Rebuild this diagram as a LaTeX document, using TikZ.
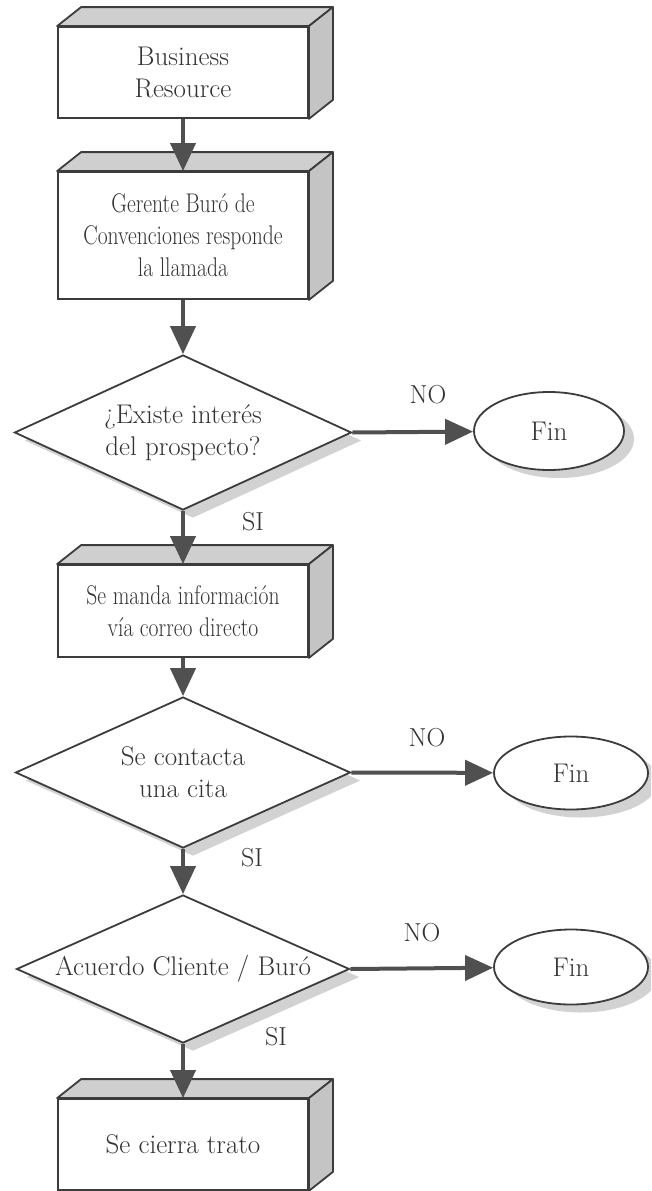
\documentclass[tikz,border=0pt]{standalone}
\usepackage{fontspec}
\usepackage{graphicx}
\usetikzlibrary{shapes.geometric,arrows.meta,shadows}
\definecolor{edge}{HTML}{3C3C3C}
\definecolor{arrowc}{HTML}{505050}
\definecolor{facec}{HTML}{CFCFCF}
\definecolor{sidec}{HTML}{C4C4C4}
\definecolor{shadec}{HTML}{D2D2D2}
\newcommand\cond[1]{\scalebox{0.8}[1]{#1}}
\begin{document}
\begin{tikzpicture}[x=1pt,y=-1pt,
  txt/.style={font=\fontsize{27}{32}\selectfont, align=center, text=black!80},
  box/.style={draw=edge, line width=1.8pt, fill=white, minimum width=250pt, inner sep=0pt, txt},
  shad/.style={drop shadow={shadow xshift=10pt, shadow yshift=-8pt, fill=shadec, opacity=1}},
  dia/.style={diamond, draw=edge, line width=1.8pt, fill=white, inner sep=0pt, shape aspect=2.2, txt, shad},
  fin/.style={ellipse, draw=edge, line width=1.8pt, fill=white, inner sep=0pt, txt, shad},
  topface/.style={fill=facec, draw=edge, line width=1.8pt, line join=round},
  sideface/.style={fill=sidec, draw=edge, line width=1.8pt, line join=round},
  arr/.style={draw=arrowc, line width=4pt, -{Triangle[length=28pt,width=25pt]}},
  lab/.style={font=\fontsize{26}{30}\selectfont, text=black!80}]
\useasboundingbox (0,0) rectangle (651,1191);
\clip (0,0) rectangle (651,1191);

% boxes
\node[box, minimum height=91pt] (b1) at (183,72.5) {Business\\Resource};
\node[box, minimum height=127pt] (b2) at (183,235.5) {\cond{Gerente Buró de}\\\cond{Convenciones responde}\\\cond{la llamada}};
\node[box, minimum height=92pt] (b3) at (183,611) {\cond{Se manda información}\\\cond{vía correo directo}};
\node[box, minimum height=91pt] (b4) at (183,1144.5) {Se cierra trato};

\foreach \n in {b1,b2,b3,b4} {
  \filldraw[topface] (\n.north west) -- ++(24,-19) -- ([shift={(24,-19)}]\n.north east) -- (\n.north east) -- cycle;
  \filldraw[sideface] (\n.north east) -- ++(24,-19) -- ([shift={(24,-19)}]\n.south east) -- (\n.south east) -- cycle;
}

% decisions
\node[dia, minimum width=337pt, minimum height=155pt] (d1) at (183,432.5) {¿Existe interés\\del prospecto?};
\node[dia, minimum width=335pt, minimum height=151pt] (d2) at (183,772.5) {Se contacta\\una cita};
\node[dia, minimum width=333pt, minimum height=148pt] (d3) at (183,969) {Acuerdo Cliente / Buró};

% end nodes
\node[fin, minimum width=150pt, minimum height=78pt] (e1) at (549,431) {Fin};
\node[fin, minimum width=154pt, minimum height=73pt] (e2) at (571,773) {Fin};
\node[fin, minimum width=154pt, minimum height=75pt] (e3) at (571,967) {Fin};

% labels
\node[lab] (no1) at (428,395) {NO};
\node[lab] (no2) at (427,738) {NO};
\node[lab] (no3) at (422,933) {NO};
\node[lab] (si1) at (253,522) {SI};
\node[lab] (si2) at (252,858) {SI};
\node[lab] (si3) at (276,1037) {SI};

% connectors
\draw[arr] (b1.south) -- (b2.north);
\draw[arr] (b2.south) -- (d1.north);
\draw[arr] (d1.south) -- (b3.north);
\draw[arr] (b3.south) -- (d2.north);
\draw[arr] (d2.south) -- (d3.north);
\draw[arr] (d3.south) -- (b4.north);
\draw[arr] (d1.east) -- (e1);
\draw[arr] (d2.east) -- (e2);
\draw[arr] (d3.east) -- (e3);
\end{tikzpicture}
\end{document}
